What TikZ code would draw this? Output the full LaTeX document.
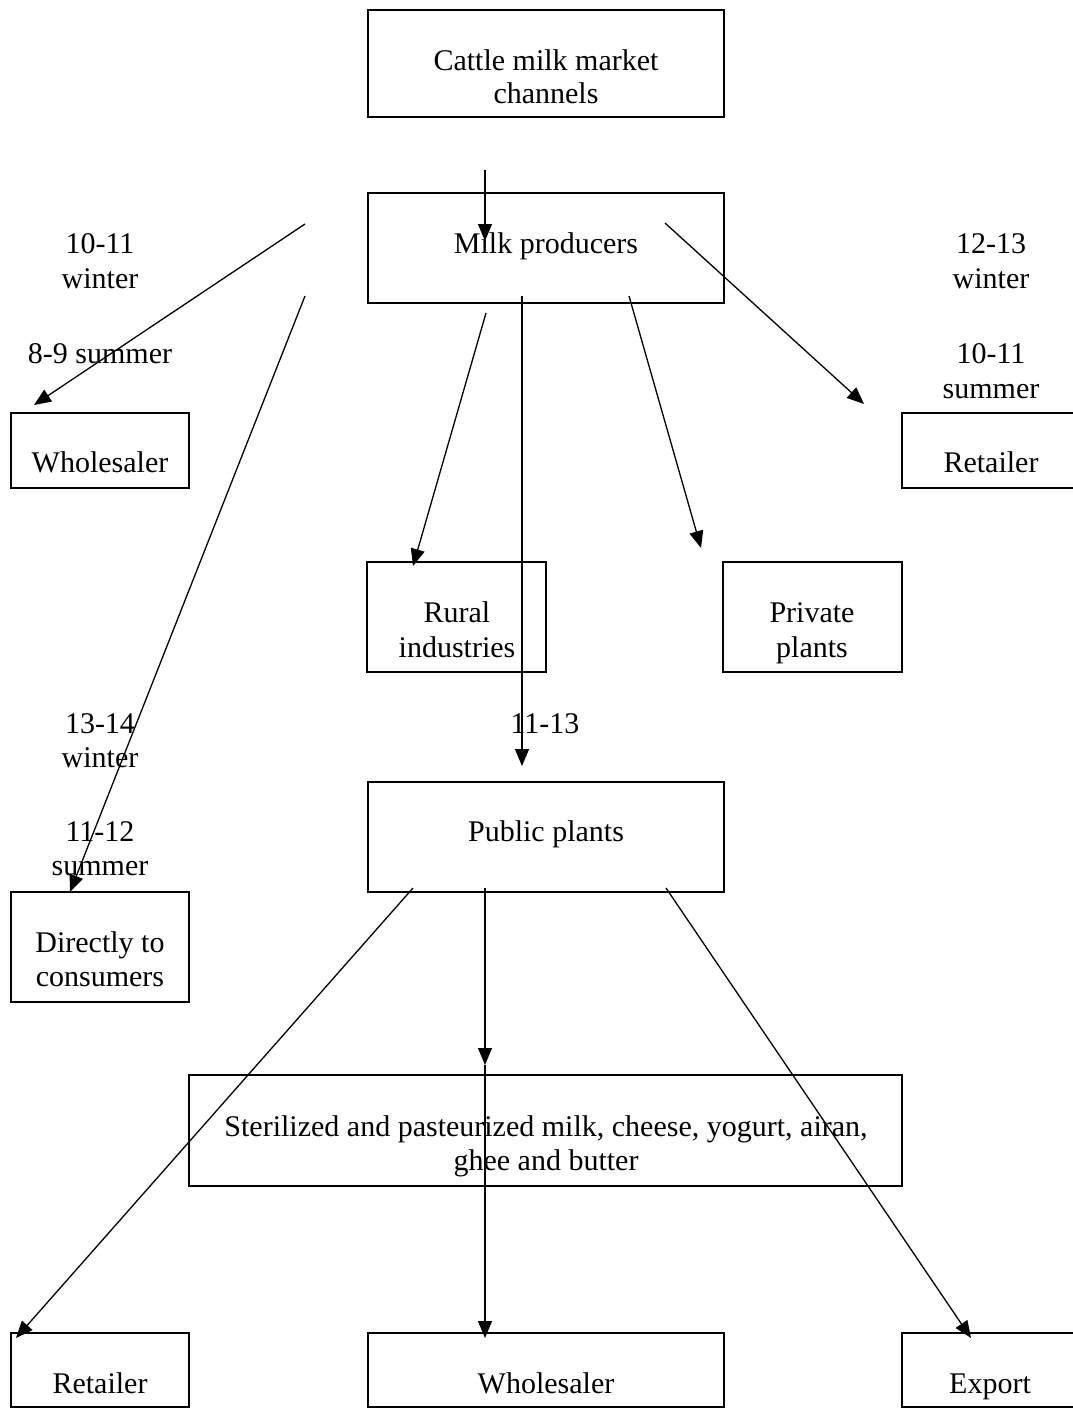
\documentclass[tikz,border=0pt]{standalone}
\usepackage{fontspec}
\setmainfont{Liberation Serif}
\usetikzlibrary{arrows.meta}
\begin{document}
\begin{tikzpicture}[x=1pt,y=-1pt,
  box/.style={draw,line width=2.2pt,rectangle,inner sep=0pt,outer sep=0pt},
  txt/.style={anchor=base,inner sep=0pt,font=\fontsize{30}{35}\selectfont},
  arr/.style={line width=1.3pt,-{Triangle[length=17pt,width=14pt]}}]
\useasboundingbox (0,0) rectangle (1073,1408);
\clip (0,0) rectangle (1073,1408);
% boxes
\node[box,minimum width=356pt,minimum height=107pt] (cattle) at (546,63.5) {};
\node[box,minimum width=356pt,minimum height=110pt] (milk) at (546,248) {};
\node[box,minimum width=178pt,minimum height=75pt] (whL) at (100,450.5) {};
\node[box,minimum width=188pt,minimum height=75pt] (retR) at (996,450.5) {};
\node[box,minimum width=179pt,minimum height=110pt] (rural) at (456.5,617) {};
\node[box,minimum width=179pt,minimum height=110pt] (private) at (812.5,617) {};
\node[box,minimum width=356pt,minimum height=110pt] (public) at (546,837) {};
\node[box,minimum width=178pt,minimum height=110pt] (direct) at (100,947) {};
\node[box,minimum width=713pt,minimum height=111pt] (steril) at (545.5,1130.5) {};
\node[box,minimum width=178pt,minimum height=74pt] (retB) at (100,1370) {};
\node[box,minimum width=356pt,minimum height=74pt] (whB) at (546,1370) {};
\node[box,minimum width=188pt,minimum height=74pt] (export) at (996,1370) {};
% texts
\node[txt] (t1) at (546,70) {Cattle milk market};
\node[txt] (t2) at (546,103) {channels};
\node[txt] (t3) at (546,253) {Milk producers};
\node[txt] (l1) at (100,253) {10-11};
\node[txt] (l2) at (100,288) {winter};
\node[txt] (l3) at (100,363) {8-9 summer};
\node[txt] (r1) at (991,253) {12-13};
\node[txt] (r2) at (991,288) {winter};
\node[txt] (r3) at (991,363) {10-11};
\node[txt] (r4) at (991,398) {summer};
\node[txt] (t4) at (100,472) {Wholesaler};
\node[txt] (t5) at (991,472) {Retailer};
\node[txt] (t6) at (457,622) {Rural};
\node[txt] (t7) at (457,657) {industries};
\node[txt] (t8) at (812,622) {Private};
\node[txt] (t9) at (812,657) {plants};
\node[txt] (d1) at (100,733) {13-14};
\node[txt] (d2) at (100,767) {winter};
\node[txt] (d3) at (100,841) {11-12};
\node[txt] (d4) at (100,875) {summer};
\node[txt] (m1) at (545,733) {11-13};
\node[txt] (t10) at (546,841) {Public plants};
\node[txt] (t11) at (100,952) {Directly to};
\node[txt] (t12) at (100,986) {consumers};
\node[txt] (t13) at (546,1136) {Sterilized and pasteurized milk, cheese, yogurt, airan,};
\node[txt] (t14) at (546,1170) {ghee and butter};
\node[txt] (t15) at (100,1393) {Retailer};
\node[txt] (t16) at (546,1393) {Wholesaler};
\node[txt] (t17) at (990,1393) {Export};
% connector end points
\coordinate (s1) at (485,170);  \coordinate (e1) at (485,241);
\coordinate (s2) at (305,224);  \coordinate (e2) at (34,405);
\coordinate (s3) at (305,296);  \coordinate (e3) at (70,892);
\coordinate (s4) at (486,313);  \coordinate (e4) at (413,566);
\coordinate (s5) at (522,296);  \coordinate (e5) at (522,766);
\coordinate (s6) at (629,296);  \coordinate (e6) at (701,548);
\coordinate (s7) at (665,223);  \coordinate (e7) at (864,404);
\coordinate (s8) at (413,888);  \coordinate (e8) at (16,1338);
\coordinate (s9) at (485,888);  \coordinate (e9) at (485,1065);
\coordinate (e9b) at (485,1338);
\coordinate (s10) at (666,888); \coordinate (e10) at (971,1338);
% connectors
\draw[arr] (s1) -- (e1);
\draw[arr] (s2) -- (e2);
\draw[arr] (s3) -- (e3);
\draw[arr] (s4) -- (e4);
\draw[arr] (s5) -- (e5);
\draw[arr] (s6) -- (e6);
\draw[arr] (s7) -- (e7);
\draw[arr] (s8) -- (e8);
\draw[arr] (s9) -- (e9);
\draw[arr] (e9) -- (e9b);
\draw[arr] (s10) -- (e10);
\end{tikzpicture}
\end{document}
